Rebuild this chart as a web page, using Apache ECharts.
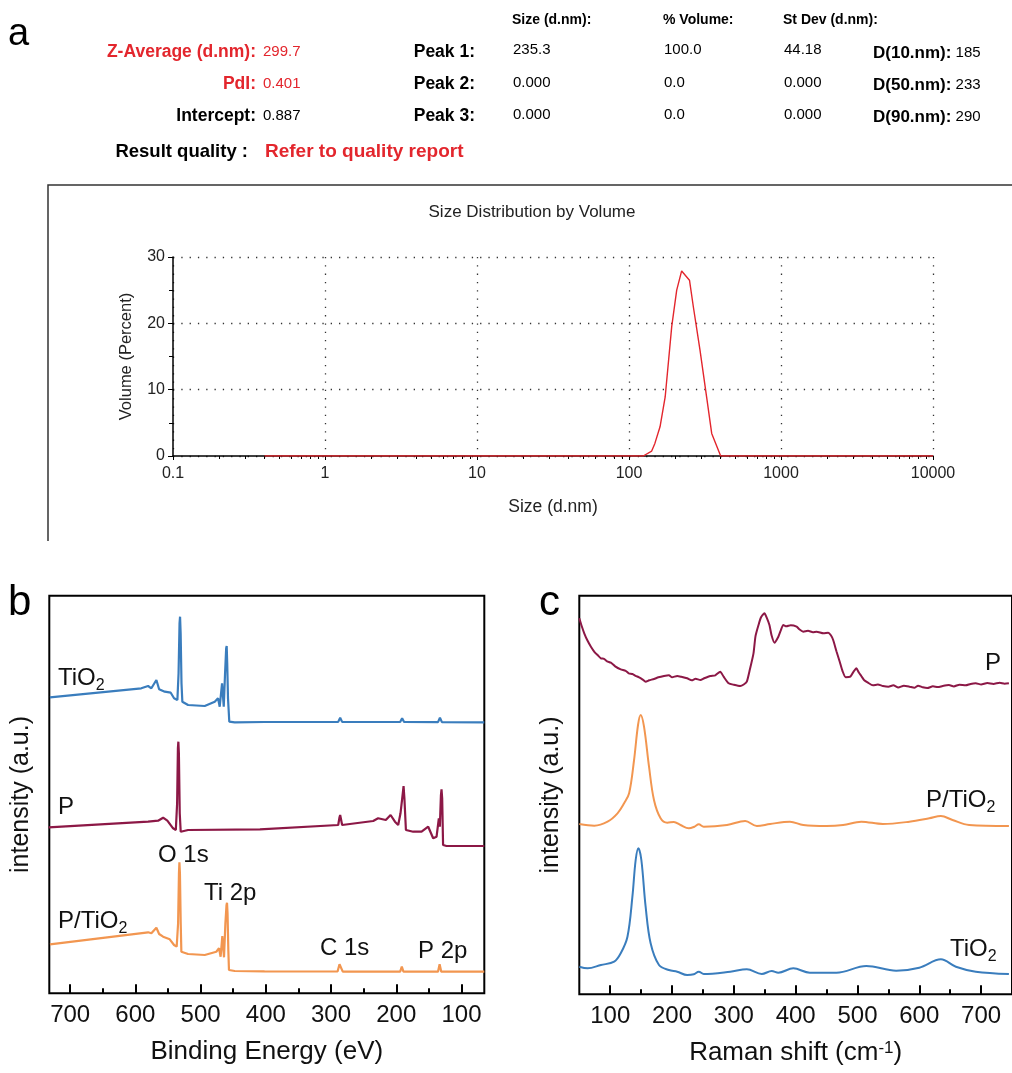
<!DOCTYPE html>
<html>
<head>
<meta charset="utf-8">
<script src="https://cdn.jsdelivr.net/npm/echarts@6/dist/echarts.min.js"></script>
<style>
html,body{margin:0;padding:0;background:#fff;}
#main{width:1012px;height:1073px;}
</style>
</head>
<body>
<div id="main"></div>
<script>
// ---- (a) DLS size distribution by volume ----
var dlsSize   = [0.4, 124, 141, 148, 160, 173, 191, 206, 222, 250, 265, 293, 324, 350, 401, 10000];
var dlsVolume = [0, 0, 0.75, 1.9, 4.4, 8.9, 19.5, 25, 27.9, 26.5, 22.5, 16, 8.9, 3.4, 0, 0];

// ---- (b) XPS survey, [binding energy (eV), intensity (a.u.)] ----
var xpsTiO2 = [[731,296],[591,305],[580.5,307.3],[575.5,305],[567.8,313.3],[563.6,304],[555,301.6],[545.8,300.6],
  [540.7,295],[535.6,293.3],[533.8,320],[532.3,370],[531.5,376.6],[530.6,360],[529.3,310],[528,291.6],[519.2,288.3],
  [493.7,287.3],[478.3,291.6],[473.3,295],[470.7,286.6],[467.1,310],[464.5,286.6],[462.5,320],[460.8,345],[460,347.3],
  [459.2,330],[458,295],[456.5,293.3],[456,271.6],[447.7,271],[402,271.3],[401,272.5],[400,271.3],[289,271.4],
  [286,275.6],[283,271.4],[194,271.3],[191,275],[188,271.3],[136,271.2],[133,275.6],[130,271.2],[65,271]];
var xpsP = [[733,166],[580.5,171.6],[565.2,172.6],[557.5,175.6],[551,172.6],[542.2,165],[538,163.3],[536,190],
  [534.8,245],[534.1,251.6],[533.3,240],[532,180],[530.5,161.6],[519.2,163.3],[409,164],[289,168.3],[287,176],
  [286,178.3],[285,175],[283,168.3],[235.4,172.3],[227.8,175],[216,173.3],[208.7,178.3],[202,171.6],[197,168.3],
  [193.5,180],[190,200],[188.8,207.3],[187.5,195],[185.2,163.3],[174,161.6],[161.2,161.6],[151,166.6],[143.4,155],
  [138.2,156.6],[134.7,175],[133.2,166.6],[131.5,198],[130.6,204],[129.6,195],[128.2,148.3],[123,147.3],[65,147.3]];
var xpsPTiO2 = [[731,49],[580.5,61],[575.5,60],[567.8,65.6],[563.6,59.3],[557.5,56.6],[547.3,54],[540.7,48.3],
  [536.7,46.6],[534.5,70],[533.2,120],[532.5,131],[531.7,120],[530.5,70],[529.5,41.6],[519.2,39.3],[493.7,38.3],
  [475.9,41.6],[471.8,45],[469.3,36.6],[466.7,57.3],[464.1,36],[462,70],[460.3,88],[459.5,90.6],[458.7,80],
  [457.5,43.3],[456.5,23.3],[447.7,22.3],[402,22],[401,23.5],[400,22],[290,21.8],[287,29],[285.5,30],[284,27],
  [282,21.7],[194,21.6],[191.5,26.6],[189,21.6],[136,21.6],[133.5,29],[131,21.6],[65,21.6]];

// ---- (c) Raman, [shift (cm-1), intensity (a.u.)] ----
var ramanP = [[50,376],[54,368],[58,361],[63,354],[68.8,347.6],[75,342],[80,339],[84.9,336],[90,335.5],[95,333],
  [101,331.6],[108,328],[117,325],[125,323.5],[130,321],[136,320.3],[141,318.5],[146.7,317],[152,315],[157.3,312.6],
  [163,314],[170.8,315.3],[178,317],[187,318.3],[195,319],[200,317],[208.4,318.3],[215,317.5],[224.5,316],[232,314],
  [238,315.5],[245.9,314.3],[252,316],[262,318.3],[270,319],[278,322.6],[283.5,317.6],[291.6,311],[300,309.5],
  [310.3,308.3],[316,309.8],[321,312.6],[326,325],[331.8,341],[335,358],[339.9,369.3],[344,377],[349.5,381],
  [353,377],[357.6,369.3],[361,359],[365.7,351.6],[372,357.6],[376,364],[380,369.3],[385,368],[392,369],
  [401.6,367.6],[406,365],[412.3,362.6],[420,363.5],[428,362],[433.8,362.6],[445,361],[452.6,361.6],[457,359],
  [460.7,354.3],[466,343],[471.3,332.6],[476,323],[481,317],[488.5,317.6],[493,322],[498.2,326],[502,322],
  [506.2,318.3],[511,314],[517,311.6],[525,309],[533,309.8],[541.1,308.3],[550,307.5],[558,309],[566,306.8],
  [575,308.5],[584,307.6],[592,306.5],[598,308.6],[605.6,307],[613,306.2],[622,308],[630,307.2],[637.8,308.3],
  [648,309.2],[656,307.9],[665,309.6],[675,309],[683,310.4],[691.4,311],[700,309.8],[710,311.2],[720,310.4],
  [730,311.5],[738,310.6],[745,311]];
var ramanPTiO2 = [[50,170.3],[74.2,168.6],[95.7,172.6],[111.8,181],[122.5,191],[130.6,201],[138.6,234.3],[145,269.3],
  [149.3,279.3],[154.7,267.6],[162.8,227.6],[170.8,194.3],[181.5,176],[192.3,171.6],[203,172.3],[213.7,169.3],
  [227.2,166],[236.2,167.6],[243.3,170],[251.3,167.6],[288.9,169.3],[318.3,173.3],[337.2,168.3],[358.6,170.3],
  [390.8,172.6],[412.3,169.3],[449.9,168.3],[476.8,169.3],[506.2,172.6],[541.1,170.3],[584,172.6],[616.2,176],
  [635,178.3],[653.8,174.3],[680.6,169.3],[745,168.3]];
var ramanTiO2 = [[50,27.6],[63.5,26],[85,29.3],[106.4,32.6],[117,41],[127.9,57.6],[135.9,97.6],[141.2,134.3],
  [145.6,146],[150.4,134.3],[157.3,87.6],[165.4,51],[178.9,29.3],[195,24.3],[208.4,22.6],[224.5,19.3],[235.2,20],
  [243.3,22.6],[251.3,20.3],[294.2,22.6],[321,25],[345.2,20.3],[361.3,23.3],[372,21.6],[396.2,26],[422.9,21.6],
  [466,21.6],[514.3,28.3],[562.6,23.6],[600,26.6],[635,35],[659.2,27.6],[691.4,22.6],[745,20.3]];

var majorTicks = [100, 200, 300, 400, 500, 600, 700];
var minorTicks = [150, 250, 350, 450, 550, 650];

var FONT = '"Liberation Sans", Arial, sans-serif';
var RED = '#e3262d';
var BLUE = '#3a7dbd', WINE = '#8c1846', ORANGE = '#f29650';

var dlsData = dlsSize.map(function (s, i) { return [s, dlsVolume[i]]; });

// header table of panel a: text, x, y, align, colour, font
var B = 'bold 17.5px ', N = '15px ', H = 'bold 14px ';
var header = [
  ['Size (d.nm):', 512, 20, 'left', '#000', H],
  ['% Volume:', 663, 20, 'left', '#000', H],
  ['St Dev (d.nm):', 783, 20, 'left', '#000', H],
  ['Z-Average (d.nm):', 256, 52, 'right', RED, B],
  ['299.7', 263, 52, 'left', RED, N],
  ['PdI:', 256, 84, 'right', RED, B],
  ['0.401', 263, 84, 'left', RED, N],
  ['Intercept:', 256, 116, 'right', '#000', B],
  ['0.887', 263, 116, 'left', '#000', N],
  ['Peak 1:', 475, 52, 'right', '#000', B],
  ['Peak 2:', 475, 84, 'right', '#000', B],
  ['Peak 3:', 475, 116, 'right', '#000', B],
  ['235.3', 513, 50, 'left', '#000', N],
  ['0.000', 513, 83, 'left', '#000', N],
  ['0.000', 513, 115, 'left', '#000', N],
  ['100.0', 664, 50, 'left', '#000', N],
  ['0.0', 664, 83, 'left', '#000', N],
  ['0.0', 664, 115, 'left', '#000', N],
  ['44.18', 784, 50, 'left', '#000', N],
  ['0.000', 784, 83, 'left', '#000', N],
  ['0.000', 784, 115, 'left', '#000', N],
  ['Result quality :', 248, 152, 'right', '#000', 'bold 18.5px '],
  ['Refer to quality report', 265, 152, 'left', RED, 'bold 19px ']
];
var dRows = [['D(10.nm):', ' 185', 53], ['D(50.nm):', ' 233', 85], ['D(90.nm):', ' 290', 117]];

var graphics = [];
header.forEach(function (h) {
  graphics.push({
    type: 'text', x: h[1], y: h[2],
    style: { text: h[0], fill: h[4], align: h[3], verticalAlign: 'middle', font: h[5] + FONT }
  });
});
dRows.forEach(function (d) {
  graphics.push({
    type: 'text', x: 873, y: d[2],
    style: { text: '{b|' + d[0] + '}{n|' + d[1] + '}', verticalAlign: 'middle', align: 'left',
      rich: { b: { fontWeight: 'bold', fontSize: 17, fontFamily: FONT, fill: '#000' },
              n: { fontSize: 15, fontFamily: FONT, fill: '#000' } } }
  });
});

function label(txt, x, y, size) {
  return {
    type: 'text', x: x, y: y,
    style: {
      text: txt, align: 'left', verticalAlign: 'middle', fill: '#111',
      font: size + 'px ' + FONT,
      rich: {
        t: { fontSize: size, fontFamily: FONT, fill: '#111', lineHeight: size + 8 },
        s: { fontSize: Math.round(size * 0.68), fontFamily: FONT, fill: '#111', lineHeight: 12, verticalAlign: 'bottom' }
      }
    }
  };
}

graphics.push(
  { type: 'text', x: 8, y: 35, style: { text: 'a', font: '38px ' + FONT, fill: '#000', verticalAlign: 'middle' } },
  { type: 'text', x: 8, y: 603, style: { text: 'b', font: '42px ' + FONT, fill: '#000', verticalAlign: 'middle' } },
  { type: 'text', x: 539, y: 603, style: { text: 'c', font: '42px ' + FONT, fill: '#000', verticalAlign: 'middle' } },
  { type: 'polyline', shape: { points: [[48, 541], [48, 185], [1012, 185]] },
    style: { stroke: '#333', lineWidth: 1.5, fill: null } },
  { type: 'text', x: 532, y: 212,
    style: { text: 'Size Distribution by Volume', font: '17px ' + FONT, fill: '#222', align: 'center', verticalAlign: 'middle' } },
  label('{t|TiO}{s|2}', 58, 678, 24),
  label('{t|P}', 58, 807, 24),
  label('{t|O 1s}', 158, 855, 24),
  label('{t|Ti 2p}', 204, 893, 24),
  label('{t|P/TiO}{s|2}', 58, 921, 24),
  label('{t|C 1s}', 320, 948, 24),
  label('{t|P 2p}', 418, 951, 24),
  label('{t|P}', 985, 663, 24),
  label('{t|P/TiO}{s|2}', 926, 800, 24),
  label('{t|TiO}{s|2}', 950, 949, 24)
);

var dotted = { color: '#333', width: 1.3, type: [1.3, 7] };

var option = {
  animation: false,
  backgroundColor: '#fff',
  textStyle: { fontFamily: FONT },
  graphic: graphics,
  grid: [
    { left: 173, top: 257, width: 760, height: 199 },
    { left: 49.3, top: 595.7, width: 435, height: 397.6, show: true, borderColor: '#000', borderWidth: 2 },
    { left: 579.3, top: 595.7, width: 435.1, height: 398.6, show: true, borderColor: '#000', borderWidth: 2 }
  ],
  xAxis: [
    { gridIndex: 0, type: 'log', logBase: 10, min: 0.1, max: 10000,
      axisLine: { lineStyle: { color: '#000', width: 1.5 } },
      axisTick: { show: true, length: 4, lineStyle: { color: '#000' } },
      minorTick: { show: true, splitNumber: 9, length: 3, lineStyle: { color: '#000' } },
      splitLine: { show: true, lineStyle: dotted },
      axisLabel: { fontSize: 16, color: '#222', margin: 10, formatter: function (v) { return String(v); } },
      name: 'Size (d.nm)', nameLocation: 'middle', nameGap: 42,
      nameTextStyle: { fontSize: 17.5, color: '#222' } },
    { gridIndex: 1, type: 'value', inverse: true, min: 65, max: 732,
      axisLine: { show: false },
      axisTick: { show: true, inside: true, length: 9, lineStyle: { color: '#000', width: 2 }, customValues: majorTicks },
      axisLabel: { fontSize: 24, color: '#111', margin: 10, customValues: majorTicks },
      splitLine: { show: false },
      name: 'Binding Energy (eV)', nameLocation: 'middle', nameGap: 46,
      nameTextStyle: { fontSize: 26, color: '#111' } },
    { gridIndex: 1, type: 'value', inverse: true, min: 65, max: 732, position: 'bottom',
      axisLine: { show: false }, axisLabel: { show: false }, splitLine: { show: false },
      axisTick: { show: true, inside: true, length: 5, lineStyle: { color: '#000', width: 2 }, customValues: minorTicks } },
    { gridIndex: 2, type: 'value', min: 50, max: 750,
      axisLine: { show: false },
      axisTick: { show: true, inside: true, length: 9, lineStyle: { color: '#000', width: 2 }, customValues: majorTicks },
      axisLabel: { fontSize: 24, color: '#111', margin: 10, customValues: majorTicks },
      splitLine: { show: false },
      name: 'Raman shift (cm{sup|-1})', nameLocation: 'middle', nameGap: 46,
      nameTextStyle: { fontSize: 26, color: '#111',
        rich: { sup: { fontSize: 17, color: '#111', lineHeight: 14, verticalAlign: 'top' } } } },
    { gridIndex: 2, type: 'value', min: 50, max: 750, position: 'bottom',
      axisLine: { show: false }, axisLabel: { show: false }, splitLine: { show: false },
      axisTick: { show: true, inside: true, length: 5, lineStyle: { color: '#000', width: 2 }, customValues: minorTicks } }
  ],
  yAxis: [
    { gridIndex: 0, type: 'value', min: 0, max: 30, interval: 10,
      axisLine: { show: true, lineStyle: { color: '#000', width: 1.5 } },
      axisTick: { show: true, length: 5, lineStyle: { color: '#000' } },
      minorTick: { show: true, splitNumber: 2, length: 4, lineStyle: { color: '#000' } },
      splitLine: { show: true, lineStyle: dotted },
      axisLabel: { fontSize: 16, color: '#222', margin: 8 },
      name: 'Volume (Percent)', nameLocation: 'middle', nameGap: 38, nameRotate: 90,
      nameTextStyle: { fontSize: 16.5, color: '#222' } },
    { gridIndex: 1, type: 'value', min: 0, max: 397.6,
      axisLine: { show: false }, axisTick: { show: false }, axisLabel: { show: false }, splitLine: { show: false },
      name: 'intensity (a.u.)', nameLocation: 'middle', nameGap: 16, nameRotate: 90,
      nameTextStyle: { fontSize: 25, color: '#111' } },
    { gridIndex: 2, type: 'value', min: 0, max: 398.6,
      axisLine: { show: false }, axisTick: { show: false }, axisLabel: { show: false }, splitLine: { show: false },
      name: 'intensity (a.u.)', nameLocation: 'middle', nameGap: 16, nameRotate: 90,
      nameTextStyle: { fontSize: 25, color: '#111' } }
  ],
  series: [
    { type: 'line', xAxisIndex: 0, yAxisIndex: 0, data: dlsData, symbol: 'none',
      lineStyle: { color: RED, width: 1.4 } },
    { type: 'line', xAxisIndex: 1, yAxisIndex: 1, data: xpsTiO2, symbol: 'none', lineStyle: { color: BLUE, width: 2.2 } },
    { type: 'line', xAxisIndex: 1, yAxisIndex: 1, data: xpsP, symbol: 'none', lineStyle: { color: WINE, width: 2.2 } },
    { type: 'line', xAxisIndex: 1, yAxisIndex: 1, data: xpsPTiO2, symbol: 'none', lineStyle: { color: ORANGE, width: 2.2 } },
    { type: 'line', xAxisIndex: 3, yAxisIndex: 2, data: ramanP, symbol: 'none', smooth: 0.2, lineStyle: { color: WINE, width: 2 } },
    { type: 'line', xAxisIndex: 3, yAxisIndex: 2, data: ramanPTiO2, symbol: 'none', smooth: 0.35, lineStyle: { color: ORANGE, width: 2 } },
    { type: 'line', xAxisIndex: 3, yAxisIndex: 2, data: ramanTiO2, symbol: 'none', smooth: 0.35, lineStyle: { color: BLUE, width: 2 } }
  ]
};

var chart = echarts.init(document.getElementById('main'));
chart.setOption(option);
</script>
</body>
</html>
